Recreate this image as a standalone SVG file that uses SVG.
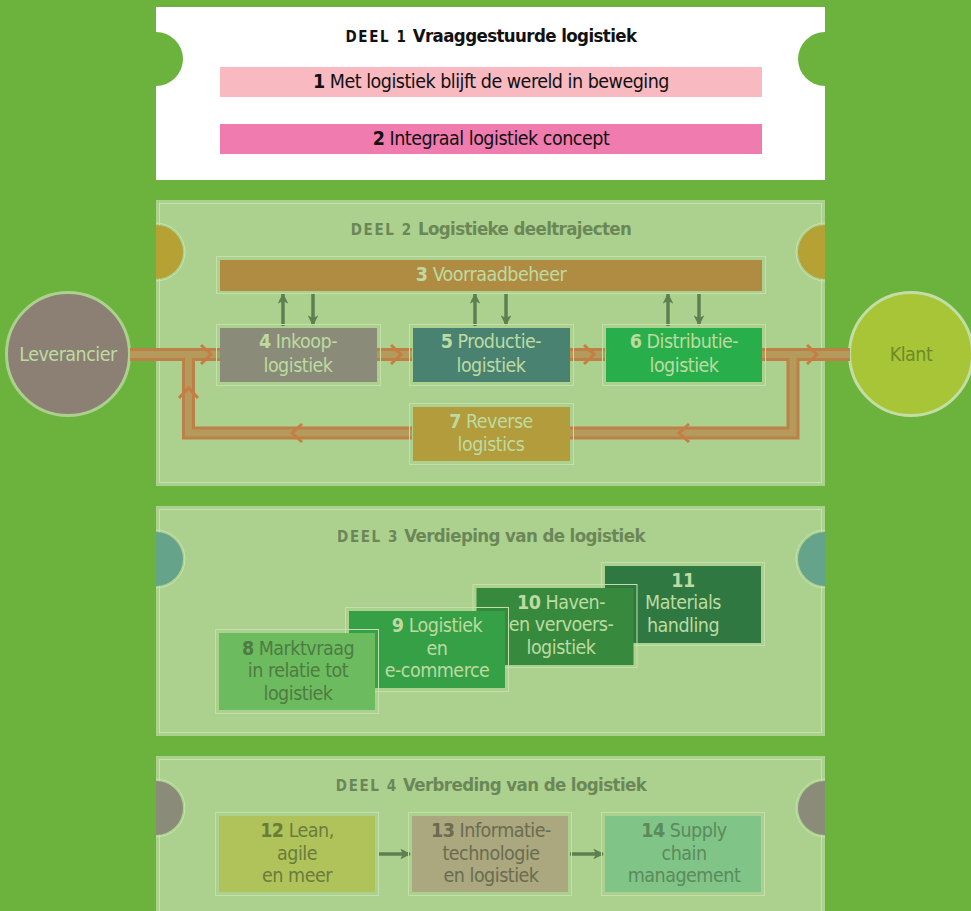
<svg xmlns="http://www.w3.org/2000/svg" width="971" height="911" viewBox="0 0 971 911">
<defs>
<style>
text{font-family:"DejaVu Sans Condensed","Liberation Sans Narrow","Liberation Sans",sans-serif;}
.t{font-size:19.5px;letter-spacing:-0.5px;text-anchor:middle;}
.b{font-weight:bold;}
.h{font-size:18.5px;letter-spacing:-0.6px;font-weight:bold;text-anchor:middle;}
.d{font-size:15px;letter-spacing:1.6px;font-weight:bold;}
.lt{fill:#bddba1;}
.gt{fill:#6b8758;}
.panel{fill:#acd18e;}
.inner{fill:none;stroke:#c6e1b0;stroke-width:1;}
.ol{fill:none;stroke:#c3e0aa;stroke-width:1;}
.ring{fill:none;stroke:#c8e2b2;stroke-width:1;}
.po{fill:none;stroke:#be8049;stroke-width:13;}
.pi{fill:none;stroke:#b49a5b;stroke-width:7;}
.ch{fill:none;stroke:#c67e44;stroke-width:3;}
.ar{stroke:#5e7f50;stroke-width:3.5;fill:none;}
</style>
<marker id="ah" viewBox="0 0 10 10" refX="9" refY="5" markerWidth="3.7" markerHeight="3.1" orient="auto" markerUnits="strokeWidth">
<path d="M0,0 L10,5 L0,10 L2.5,5 Z" fill="#5e7f50"/>
</marker>
</defs>
<rect width="971" height="911" fill="#6cb33e"/>

<!-- DEEL 1 -->
<g id="deel1">
<rect x="156" y="7" width="669" height="173" fill="#ffffff"/>
<path d="M156,32 A27,27 0 0 1 156,86 Z" fill="#6cb33e"/>
<path d="M825,32 A27,27 0 0 0 825,86 Z" fill="#6cb33e"/>
<text x="491" y="42" class="h" fill="#111"><tspan class="d">DEEL 1</tspan> Vraaggestuurde logistiek</text>
</g>
<g id="n1">
<rect x="220" y="67" width="542" height="30" fill="#f9b9c1"/>
<text x="491" y="88" class="t" fill="#111"><tspan class="b">1</tspan> Met logistiek blijft de wereld in beweging</text>
</g>
<g id="n2">
<rect x="220" y="124" width="542" height="30" fill="#f07bae"/>
<text x="491" y="145" class="t" fill="#111"><tspan class="b">2</tspan> Integraal logistiek concept</text>
</g>

<!-- DEEL 2 -->
<g id="deel2">
<rect x="156" y="200" width="669" height="286" class="panel"/>
<rect x="159.5" y="203.5" width="662" height="279" class="inner"/>
<path d="M156,225 A27,27 0 0 1 156,279 Z" fill="#b5a134"/>
<path d="M156,223 A29,29 0 0 1 156,281" class="ring"/>
<path d="M825,225 A27,27 0 0 0 825,279 Z" fill="#b5a134"/>
<path d="M825,223 A29,29 0 0 0 825,281" class="ring"/>
<text x="491" y="235" class="h gt"><tspan class="d">DEEL 2</tspan> Logistieke deeltrajecten</text>
</g>

<!-- DEEL 3 -->
<g id="deel3">
<rect x="156" y="506" width="669" height="230" class="panel"/>
<rect x="159.5" y="509.5" width="662" height="223" class="inner"/>
<path d="M156,532 A27,27 0 0 1 156,586 Z" fill="#65a38a"/>
<path d="M156,530 A29,29 0 0 1 156,588" class="ring"/>
<path d="M825,532 A27,27 0 0 0 825,586 Z" fill="#65a38a"/>
<path d="M825,530 A29,29 0 0 0 825,588" class="ring"/>
<text x="491" y="542" class="h gt"><tspan class="d">DEEL 3</tspan> Verdieping van de logistiek</text>
</g>

<!-- DEEL 4 -->
<g id="deel4">
<rect x="156" y="756" width="669" height="160" class="panel"/>
<rect x="159.5" y="759.5" width="662" height="160" class="inner"/>
<path d="M156,781 A27,27 0 0 1 156,835 Z" fill="#8a8b78"/>
<path d="M156,779 A29,29 0 0 1 156,837" class="ring"/>
<path d="M825,781 A27,27 0 0 0 825,835 Z" fill="#8a8b78"/>
<path d="M825,779 A29,29 0 0 0 825,837" class="ring"/>
<text x="491" y="791" class="h gt"><tspan class="d">DEEL 4</tspan> Verbreding van de logistiek</text>
</g>

<g id="leverancier">
<circle cx="68" cy="354" r="61.5" fill="#8c8074" stroke="#acd18e" stroke-width="3"/>
<text x="68" y="361" class="t lt">Leverancier</text>
</g>
<g id="klant">
<circle cx="911" cy="354" r="61.5" fill="#a8c537" stroke="#c2dea5" stroke-width="3"/>
<text x="911" y="361" class="t" fill="#6c8a2a">Klant</text>
</g>

<g id="connectors">
<path class="po" d="M130,354.5 H220 M377,354.5 H412 M569,354.5 H605 M762,354.5 H850 M412,433 H188.5 V354.5 M569,433 H793 V354.5"/>
<path class="pi" d="M130,354.5 H220 M377,354.5 H412 M569,354.5 H605 M762,354.5 H850 M412,433 H188.5 V354.5 M569,433 H793 V354.5"/>
<path class="ch" d="M201,345 L211,354.5 L201,364 M391,345 L401,354.5 L391,364 M584,345 L594,354.5 L584,364 M807,345 L817,354.5 L807,364 M179,398 L188.5,388 L198,398 M302,424 L292,433 L302,442 M689,424 L679,433 L689,442"/>
<line class="ar" x1="283" y1="326" x2="283" y2="294" marker-end="url(#ah)"/>
<line class="ar" x1="313" y1="293" x2="313" y2="325" marker-end="url(#ah)"/>
<line class="ar" x1="475" y1="326" x2="475" y2="294" marker-end="url(#ah)"/>
<line class="ar" x1="506" y1="293" x2="506" y2="325" marker-end="url(#ah)"/>
<line class="ar" x1="668" y1="326" x2="668" y2="294" marker-end="url(#ah)"/>
<line class="ar" x1="699" y1="293" x2="699" y2="325" marker-end="url(#ah)"/>
<line class="ar" x1="378" y1="854" x2="410" y2="854" marker-end="url(#ah)"/>
<line class="ar" x1="570" y1="854" x2="603" y2="854" marker-end="url(#ah)"/>
</g>

<g id="n3">
<rect x="216.5" y="256.5" width="549" height="37" class="ol"/>
<rect x="220" y="260" width="542" height="31" fill="#b08c43"/>
<text x="491" y="281" class="t lt"><tspan class="b">3</tspan> Voorraadbeheer</text>
</g>
<g id="n4">
<rect x="216.5" y="324.5" width="164" height="61" class="ol"/>
<rect x="220" y="328" width="157" height="54" fill="#8a8b78"/>
<text x="298" y="348" class="t lt"><tspan class="b">4</tspan> Inkoop-</text>
<text x="298" y="372" class="t lt">logistiek</text>
</g>
<g id="n5">
<rect x="409.5" y="324.5" width="164" height="61" class="ol"/>
<rect x="413" y="328" width="157" height="54" fill="#4a8272"/>
<text x="491" y="348" class="t lt"><tspan class="b">5</tspan> Productie-</text>
<text x="491" y="372" class="t lt">logistiek</text>
</g>
<g id="n6">
<rect x="602.5" y="324.5" width="163" height="61" class="ol"/>
<rect x="606" y="328" width="156" height="54" fill="#28ae4a"/>
<text x="684" y="348" class="t lt"><tspan class="b">6</tspan> Distributie-</text>
<text x="684" y="372" class="t lt">logistiek</text>
</g>
<g id="n7">
<rect x="409.5" y="403.5" width="164" height="61" class="ol"/>
<rect x="413" y="407" width="157" height="54" fill="#b39c3b"/>
<text x="491" y="428" class="t lt"><tspan class="b">7</tspan> Reverse</text>
<text x="491" y="451" class="t lt">logistics</text>
</g>

<g id="n11">
<rect x="601.5" y="562.5" width="163" height="83" class="ol"/>
<rect x="605" y="566" width="156" height="77" fill="#2f7842"/>
<text x="683" y="587" class="t lt b">11</text>
<text x="683" y="609" class="t lt">Materials</text>
<text x="683" y="632" class="t lt">handling</text>
</g>
<g id="n10">
<rect x="473" y="584.5" width="164" height="83" class="ol"/>
<rect x="476.5" y="588" width="157" height="77" fill="#378a3d"/>
<text x="561" y="609" class="t lt"><tspan class="b">10</tspan> Haven-</text>
<text x="561" y="631" class="t lt">en vervoers-</text>
<text x="561" y="654" class="t lt">logistiek</text>
</g>
<g id="n9">
<rect x="345.5" y="607.5" width="163" height="84" class="ol"/>
<rect x="349" y="611" width="156" height="77" fill="#36a046"/>
<text x="437" y="632" class="t lt"><tspan class="b">9</tspan> Logistiek</text>
<text x="437" y="655" class="t lt">en</text>
<text x="437" y="677" class="t lt">e-commerce</text>
</g>
<g id="n8">
<rect x="215.5" y="629.5" width="163" height="84" class="ol"/>
<rect x="219" y="633" width="156" height="77" fill="#6dbb5f"/>
<text x="298" y="655" class="t" fill="#4e7b42"><tspan class="b">8</tspan> Marktvraag</text>
<text x="298" y="677" class="t" fill="#4e7b42">in relatie tot</text>
<text x="298" y="700" class="t" fill="#4e7b42">logistiek</text>
</g>

<g id="n12">
<rect x="215.5" y="812.5" width="163" height="83" class="ol"/>
<rect x="219" y="816" width="156" height="76" fill="#b0c35b"/>
<text x="297" y="837" class="t" fill="#6a7c3a"><tspan class="b">12</tspan> Lean,</text>
<text x="297" y="860" class="t" fill="#6a7c3a">agile</text>
<text x="297" y="882" class="t" fill="#6a7c3a">en meer</text>
</g>
<g id="n13">
<rect x="408.5" y="812.5" width="163" height="83" class="ol"/>
<rect x="412" y="816" width="156" height="76" fill="#aba77f"/>
<text x="491" y="837" class="t" fill="#6a6c4f"><tspan class="b">13</tspan> Informatie-</text>
<text x="491" y="860" class="t" fill="#6a6c4f">technologie</text>
<text x="491" y="882" class="t" fill="#6a6c4f">en logistiek</text>
</g>
<g id="n14">
<rect x="601.5" y="812.5" width="163" height="83" class="ol"/>
<rect x="605" y="816" width="156" height="76" fill="#80c488"/>
<text x="684" y="837" class="t" fill="#5b8a5c"><tspan class="b">14</tspan> Supply</text>
<text x="684" y="860" class="t" fill="#5b8a5c">chain</text>
<text x="684" y="882" class="t" fill="#5b8a5c">management</text>
</g>
</svg>
